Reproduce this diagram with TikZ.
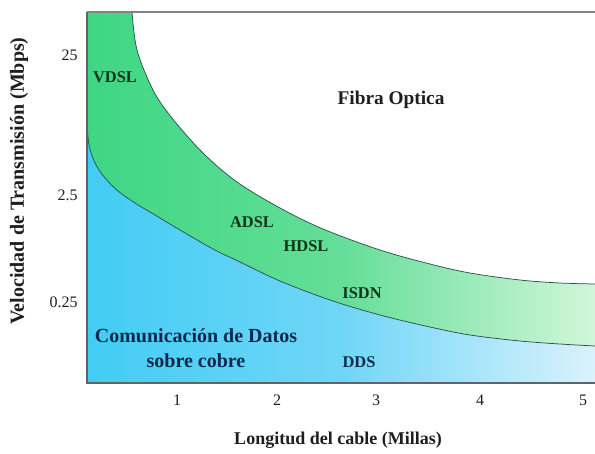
\documentclass[tikz,border=0pt]{standalone}
\usepackage{fontspec}
\setmainfont{Liberation Serif}
\usepackage{tikz}
\usepackage{xcolor}

\definecolor{cobreIzq}{RGB}{66,204,244}
\definecolor{cobreMed}{RGB}{112,214,247}
\definecolor{cobreDer}{RGB}{218,242,252}
\definecolor{dslIzq}{RGB}{62,214,132}
\definecolor{dslMed}{RGB}{100,222,152}
\definecolor{dslDer}{RGB}{210,246,218}
\definecolor{txtVerde}{RGB}{16,52,26}
\definecolor{txtAzul}{RGB}{16,40,78}
\definecolor{txtGris}{RGB}{30,30,30}
\definecolor{borde}{RGB}{95,100,102}

\tikzset{
  curva/.style={color={rgb, 255:red, 45; green, 80; blue, 70 }, line width=0.55},
  marco/.style={color=borde, line width=0.9},
  etiq/.style={inner sep=0.75pt, font=\fontsize{12.3}{14}\selectfont\bfseries},
  eje/.style={inner sep=0.75pt, text=txtGris, font=\fontsize{13.5}{16}\selectfont\bfseries},
  marca/.style={inner sep=0.75pt, text=txtGris, font=\fontsize{12}{14}\selectfont}
}

\begin{document}
\begin{tikzpicture}[x=0.75pt,y=0.75pt,yscale=-1,xscale=1]
\path[use as bounding box] (0,0) rectangle (595,453);

%Shape: DSL band (everything under the fibre curve)
\shade [left color=dslIzq, right color=dslDer, middle color=dslMed] (87,383) -- (87,12) -- plot[smooth, tension=0.55] coordinates {(132,12) (137,50) (153,90) (172,118) (203,153) (237,182) (280,208) (323,229) (380,250) (430,264) (470,273) (520,280) (560,283) (595,284)} -- (595,383) -- cycle ;
%Shape: copper region
\shade [left color=cobreIzq, right color=cobreDer, middle color=cobreMed] (87,383) -- plot[smooth, tension=0.55] coordinates {(87,123) (89,145) (95,163) (105,178) (118,191) (135,203) (155,215) (180,230) (213,249) (240,262) (280,281) (330,300) (380,315) (430,327) (470,335) (520,341) (560,344) (595,346)} -- (595,383) -- cycle ;

%Curve Lines
\draw [curva] plot[smooth, tension=0.55] coordinates {(132,12) (137,50) (153,90) (172,118) (203,153) (237,182) (280,208) (323,229) (380,250) (430,264) (470,273) (520,280) (560,283) (595,284)} ;
\draw [curva] plot[smooth, tension=0.55] coordinates {(87,123) (89,145) (95,163) (105,178) (118,191) (135,203) (155,215) (180,230) (213,249) (240,262) (280,281) (330,300) (380,315) (430,327) (470,335) (520,341) (560,344) (595,346)} ;

%Straight Lines (frame)
\draw [marco, color={rgb, 255:red, 130; green, 130; blue, 130 }] (87,12) -- (595,12) ;
\draw [marco] (87,12) -- (87,383) -- (595,383) ;

% Text Node
\draw (115,77) node (vdsl) [etiq, text=txtVerde] {VDSL};
% Text Node
\draw (391,100) node (fibra) [etiq, text=txtGris, font=\fontsize{14.5}{17}\selectfont\bfseries] {Fibra Optica};
% Text Node
\draw (252,222) node (adsl) [etiq, text=txtVerde] {ADSL};
% Text Node
\draw (306,246) node (hdsl) [etiq, text=txtVerde] {HDSL};
% Text Node
\draw (362,293) node (isdn) [etiq, text=txtVerde] {ISDN};
% Text Node
\draw (196,336) node (cobre) [etiq, text=txtAzul, font=\fontsize{15}{18}\selectfont\bfseries] {Comunicación de Datos};
% Text Node
\draw (196,361) node (sobre) [etiq, text=txtAzul, font=\fontsize{15}{18}\selectfont\bfseries] {sobre cobre};
% Text Node
\draw (359,362) node (dds) [etiq, text=txtAzul] {DDS};

% Text Node (ticks)
\draw (79,55) node (y25) [marca, anchor=east] {25};
\draw (79,195) node (y2) [marca, anchor=east] {2.5};
\draw (79,302) node (y0) [marca, anchor=east] {0.25};
\foreach \m/\px in {1/177, 2/277, 3/376, 4/480, 5/583}
  \draw (\px,400) node (x\m) [marca] {\m};

% Text Node (axes)
\draw (338,440) node (ejex) [eje] {Longitud del cable (Millas)};
\draw (19,181) node (ejey) [eje, rotate=90, font=\fontsize{15}{18}\selectfont\bfseries] {Velocidad de Transmisión (Mbps)};

\end{tikzpicture}
\end{document}
